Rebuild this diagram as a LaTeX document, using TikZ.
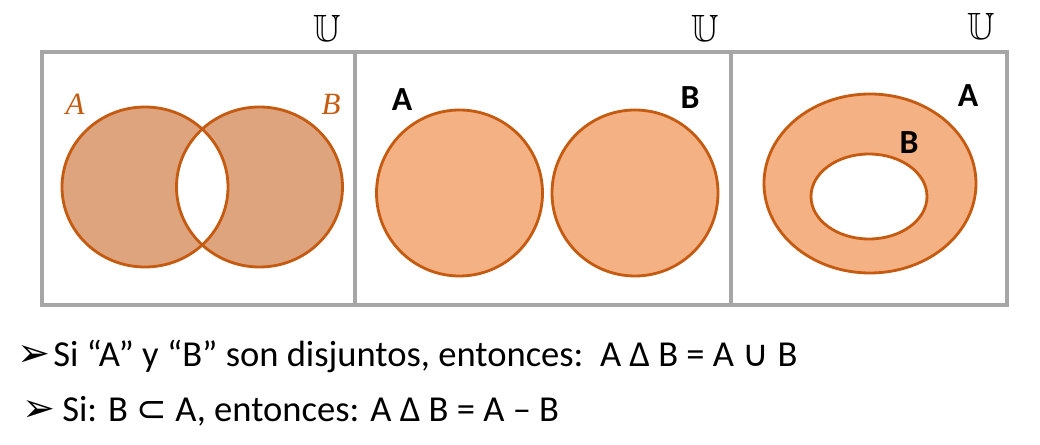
\documentclass[tikz,border=0pt]{standalone}
\usepackage{amssymb}
\usepackage{fontspec}
\setmainfont{Carlito}
\newfontfamily\dejavu{DejaVu Sans}
\newfontfamily\serifit{Liberation Serif}
\usetikzlibrary{positioning}
\definecolor{venndark}{RGB}{221,164,126}
\definecolor{vennlight}{RGB}{244,177,131}
\definecolor{vennline}{RGB}{197,90,17}
\definecolor{framegray}{RGB}{166,166,166}

\begin{document}
\begin{tikzpicture}[x=0.025cm,y=-0.025cm,
  frame/.style={draw=framegray,line width=2.2pt},
  setline/.style={draw=vennline,line width=2pt},
  univ/.style={font=\fontsize{27}{28}\selectfont},
  lbl/.style={font=\fontsize{24}{26}\selectfont\bfseries},
  lblit/.style={font=\fontsize{22}{24}\selectfont\serifit\itshape,text=vennline},
  bullet/.style={font=\fontsize{28}{30}\selectfont\dejavu,anchor=base west,inner sep=0pt},
  line/.style={font=\fontsize{26}{28}\selectfont,anchor=base west,inner sep=0pt}]
  \useasboundingbox (0,0) rectangle (1040,445);
  % frames
  \draw[frame] (42,52) rectangle (1007,305);
  \draw[frame] (355,52) -- (355,305);
  \draw[frame] (731,52) -- (731,305);
  \node[univ] (u1) at (327,28) {$\mathbb{U}$};
  \node[univ] (u2) at (705,28) {$\mathbb{U}$};
  \node[univ] (u3) at (981,26) {$\mathbb{U}$};
  % A delta B
  \fill[venndark,even odd rule] (145,187) ellipse (83 and 80)
       (259.5,187) ellipse (83 and 80);
  \draw[setline] (145,187) ellipse (83 and 80);
  \draw[setline] (259.5,187) ellipse (83 and 80);
  \node[lblit] (a1) at (75,104) {A};
  \node[lblit] (b1) at (331,104) {B};
  % disjuntos
  \draw[setline,fill=vennlight] (459.5,193) circle (83);
  \draw[setline,fill=vennlight] (635,193) circle (83);
  \node[lbl] (a2) at (402,100) {A};
  \node[lbl] (b2) at (690,98) {B};
  % B en A
  \fill[vennlight,even odd rule] (870,183.5) ellipse (106 and 89.5)
       (869,196.5) ellipse (58 and 42.5);
  \draw[setline] (870,183.5) ellipse (106 and 89.5);
  \draw[setline] (869,196.5) ellipse (58 and 42.5);
  \node[lbl] (a3) at (968,96) {A};
  \node[lbl] (b3) at (909,143) {B};
  % texto
  \node[bullet] (p1) at (17,367) {➢};
  \node[line] (t1) at (53,367) {Si “A” y “B” son disjuntos, entonces:\ \ A Δ B = A {\dejavu ∪} B};
  \node[bullet] (p2) at (22,421) {➢};
  \node[line] (t2) at (62,421) {Si: B {\dejavu ⊂} A, entonces: A Δ B = A – B};
\end{tikzpicture}
\end{document}
